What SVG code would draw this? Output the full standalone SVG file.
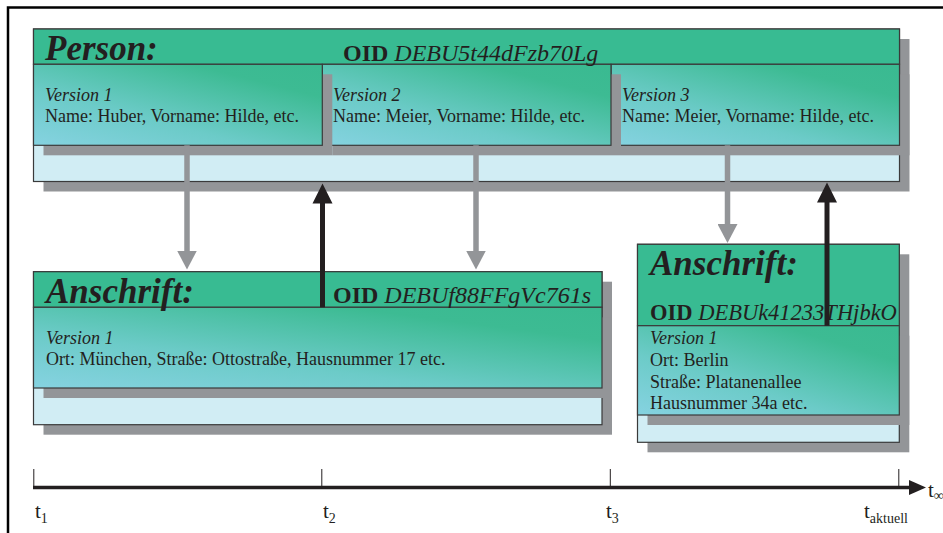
<svg xmlns="http://www.w3.org/2000/svg" width="943" height="533" viewBox="0 0 943 533">
  <defs>
    <linearGradient id="verFill" x1="0.05" y1="1" x2="0.95" y2="0">
      <stop offset="0" stop-color="#84d2df"/>
      <stop offset="0.35" stop-color="#6ccbc8"/>
      <stop offset="0.8" stop-color="#3dbb93"/>
      <stop offset="1" stop-color="#3aba91"/>
    </linearGradient>
    <marker id="headGray" markerUnits="userSpaceOnUse" markerWidth="20" markerHeight="20" viewBox="0 -10 20 20" refX="1" refY="0" orient="auto">
      <path d="M0,-10 L19,0 L0,10 z" fill="#939598"/>
    </marker>
    <marker id="headBlack" markerUnits="userSpaceOnUse" markerWidth="21" markerHeight="21" viewBox="0 -10 21 20" refX="1" refY="0" orient="auto">
      <path d="M0,-10 L20,0 L0,10 z" fill="#231f20"/>
    </marker>
    <marker id="headAxis" markerUnits="userSpaceOnUse" markerWidth="18" markerHeight="16" viewBox="0 -8 18 16" refX="1" refY="0" orient="auto">
      <path d="M0,-7.5 L17,0 L0,7.5 z" fill="#231f20"/>
    </marker>
  </defs>
  <style>
    .shadow { fill: #939598; }
    .back { fill: #d1edf4; stroke: #3a3a3a; stroke-width: 1.2; }
    .head { fill: #38bb92; stroke: #3a3a3a; stroke-width: 1.2; }
    .ver { fill: url(#verFill); stroke: #3a3a3a; stroke-width: 1.2; }
    text { font-family: "Liberation Serif", "Times New Roman", serif; fill: #231f20; }
    .title { font-size: 35px; font-weight: bold; font-style: italic; }
    .oid { font-size: 24px; }
    .oid .k { font-weight: bold; }
    .oid .v { font-style: italic; }
    .vl { font-size: 18px; font-style: italic; }
    .tx { font-size: 18px; }
    .gray { stroke: #939598; stroke-width: 5.5; fill: none; marker-end: url(#headGray); }
    .black { stroke: #231f20; stroke-width: 5; fill: none; marker-end: url(#headBlack); }
    .axis { stroke: #231f20; stroke-width: 3.5; fill: none; marker-end: url(#headAxis); }
    .tick { stroke: #231f20; stroke-width: 1; }
    .t { font-size: 21px; }
    .sub { font-size: 14px; }
  </style>

  <!-- page frame -->
  <path d="M8,533 V7.5 H943" fill="none" stroke="#000" stroke-width="2.5"/>

  <!-- object Person -->
  <g id="person">
    <rect class="shadow" x="43.5" y="39" width="866" height="152.5"/>
    <rect class="back" x="33.5" y="29" width="866" height="152.5"/>
    <rect class="head" x="33.5" y="29" width="866" height="35.3"/>
    <g id="person-v3">
      <rect class="shadow" x="621" y="74.3" width="288.5" height="81"/>
      <rect class="ver" x="611" y="64.3" width="288.5" height="81"/>
    </g>
    <g id="person-v2">
      <rect class="shadow" x="332.3" y="74.3" width="288.7" height="81"/>
      <rect class="ver" x="322.3" y="64.3" width="288.7" height="81"/>
    </g>
    <g id="person-v1">
      <rect class="shadow" x="43.5" y="74.3" width="288.8" height="81"/>
      <rect class="ver" x="33.5" y="64.3" width="288.8" height="81"/>
    </g>
    <text class="title" x="45" y="60">Person:</text>
    <text class="oid" x="343" y="61"><tspan class="k">OID</tspan> <tspan class="v">DEBU5t44dFzb70Lg</tspan></text>
    <text class="vl" x="45" y="101">Version 1</text>
    <text class="tx" x="45" y="122">Name: Huber, Vorname: Hilde, etc.</text>
    <text class="vl" x="333" y="101">Version 2</text>
    <text class="tx" x="333" y="122">Name: Meier, Vorname: Hilde, etc.</text>
    <text class="vl" x="622" y="101">Version 3</text>
    <text class="tx" x="622" y="122">Name: Meier, Vorname: Hilde, etc.</text>
  </g>

  <!-- object Anschrift (München) -->
  <g id="anschrift-1">
    <rect class="shadow" x="43.5" y="281.7" width="568.5" height="153"/>
    <rect class="back" x="33.5" y="271.7" width="568.5" height="153"/>
    <rect class="shadow" x="43.5" y="317.3" width="568.5" height="80.7"/>
    <rect class="head" x="33.5" y="271.7" width="568.5" height="35.6"/>
    <rect class="ver" x="33.5" y="307.3" width="568.5" height="80.7"/>
    <text class="title" x="46" y="302.5">Anschrift:</text>
    <text class="oid" x="333" y="302.5"><tspan class="k">OID</tspan> <tspan class="v">DEBUf88FFgVc761s</tspan></text>
    <text class="vl" x="46" y="343.5">Version 1</text>
    <text class="tx" x="46" y="365">Ort: München, Straße: Ottostraße, Hausnummer 17 etc.</text>
  </g>

  <!-- object Anschrift (Berlin) -->
  <g id="anschrift-2">
    <rect class="shadow" x="647.5" y="254.3" width="261.8" height="198"/>
    <rect class="back" x="637.5" y="244.3" width="261.8" height="198"/>
    <rect class="shadow" x="647.5" y="335.7" width="261.8" height="89.3"/>
    <rect class="head" x="637.5" y="244.3" width="261.8" height="81.4"/>
    <rect class="ver" x="637.5" y="325.7" width="261.8" height="89.3"/>
    <text class="title" x="650" y="274.5">Anschrift:</text>
    <text class="oid" x="650" y="320" style="font-size:22.5px"><tspan class="k">OID</tspan> <tspan class="v">DEBUk41233THjbkO</tspan></text>
    <text class="vl" x="650" y="343.5">Version 1</text>
    <text class="tx" x="650" y="366">Ort: Berlin</text>
    <text class="tx" x="650" y="387.5">Straße: Platanenallee</text>
    <text class="tx" x="650" y="408.5">Hausnummer 34a etc.</text>
  </g>

  <!-- connectors -->
  <g id="connectors">
    <line class="gray" x1="187" y1="145.3" x2="187" y2="251.5"/>
    <line class="gray" x1="476" y1="145.3" x2="476" y2="251.5"/>
    <line class="gray" x1="727.5" y1="145.3" x2="727.5" y2="225"/>
    <line class="black" x1="322.5" y1="307.3" x2="322.5" y2="202.5"/>
    <line class="black" x1="827" y1="325.7" x2="827" y2="201.5"/>
  </g>

  <!-- time axis -->
  <g id="time-axis">
    <line class="axis" x1="33" y1="487.5" x2="910" y2="487.5"/>
    <line class="tick" x1="33.8" y1="469" x2="33.8" y2="487"/>
    <line class="tick" x1="321.8" y1="469" x2="321.8" y2="487"/>
    <line class="tick" x1="610.3" y1="469" x2="610.3" y2="487"/>
    <line class="tick" x1="898.8" y1="469" x2="898.8" y2="487"/>
    <text class="t" x="35" y="518">t<tspan class="sub" dy="5">1</tspan></text>
    <text class="t" x="323" y="518">t<tspan class="sub" dy="5">2</tspan></text>
    <text class="t" x="606" y="518">t<tspan class="sub" dy="5">3</tspan></text>
    <text class="t" x="864" y="518">t<tspan class="sub" dy="5">aktuell</tspan></text>
    <text class="t" x="928" y="497">t<tspan class="sub" dy="3">∞</tspan></text>
  </g>
</svg>
